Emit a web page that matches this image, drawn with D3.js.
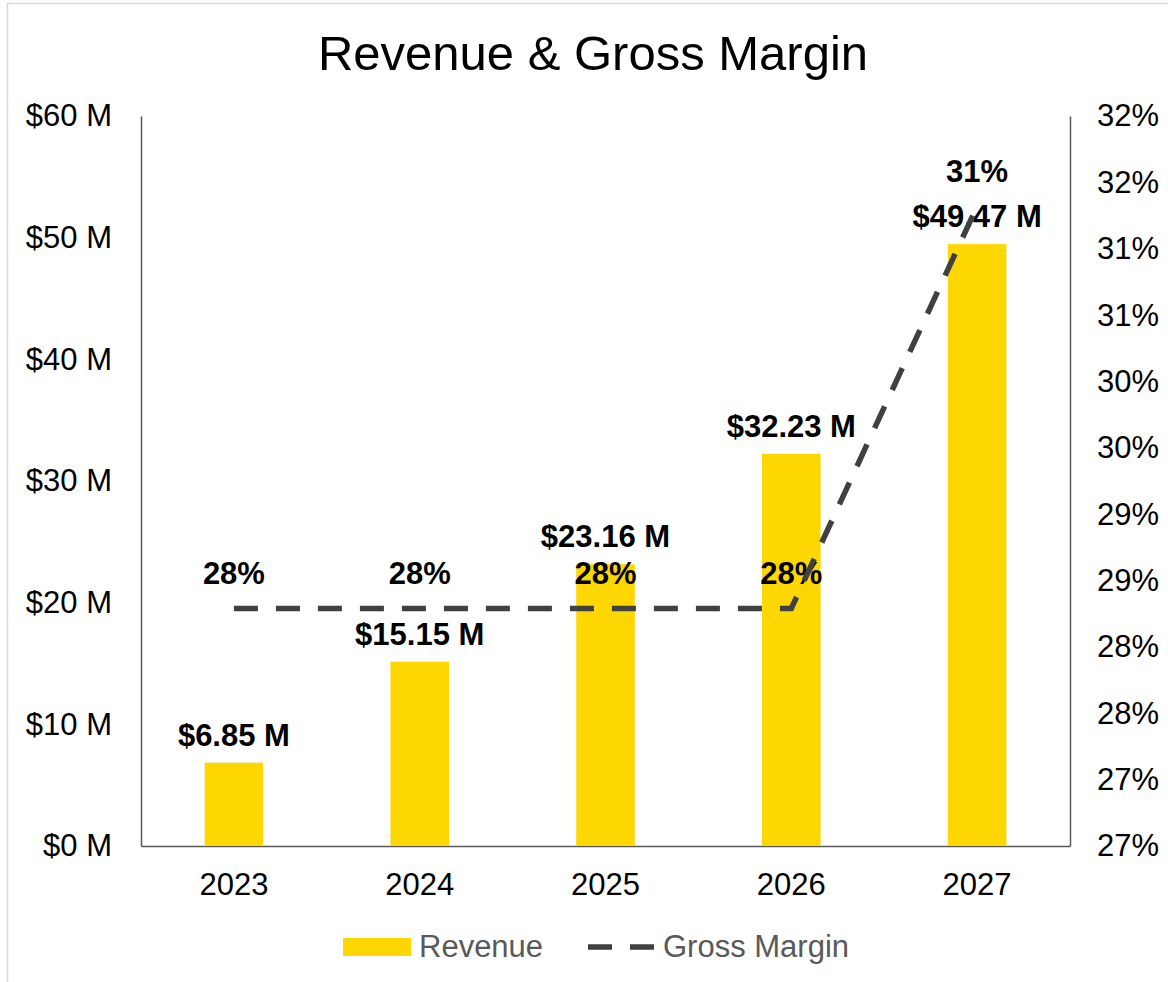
<!DOCTYPE html>
<html>
<head>
<meta charset="utf-8">
<script src="https://cdn.jsdelivr.net/npm/d3@7"></script>
<style>
  html, body { margin: 0; padding: 0; background: #fff; }
  svg { display: block; font-family: "Liberation Sans", Arial, sans-serif; }
</style>
</head>
<body>
<svg id="chart" width="1168" height="982"></svg>
<script>
const years = ["2023", "2024", "2025", "2026", "2027"];
const revenue = [6.85, 15.15, 23.16, 32.23, 49.47];          // $ M
const grossMargin = [28.39, 28.39, 28.39, 28.39, 31.42];      // %
const leftTicks = [0, 10, 20, 30, 40, 50, 60];
const rightTicks = [26.6, 27.1, 27.6, 28.1, 28.6, 29.1, 29.6, 30.1, 30.6, 31.1, 31.6, 32.1];
const seriesNames = ["Revenue", "Gross Margin"];

const svg = d3.select("#chart");
const W = 1168, H = 982;
const m = { left: 141, right: 1070, top: 116, bottom: 846 };

// chart border
svg.append("rect")
  .attr("x", 7.5).attr("y", 3.5)
  .attr("width", W + 20).attr("height", H + 20)
  .attr("fill", "#fff").attr("stroke", "#d9d9d9").attr("stroke-width", 1.5);

// title
svg.append("text")
  .attr("x", 593).attr("y", 70)
  .attr("text-anchor", "middle")
  .attr("font-size", 49)
  .attr("fill", "#000")
  .text("Revenue & Gross Margin");

const x = d3.scaleBand().domain(years).range([m.left, m.right]).paddingInner(0.685).paddingOuter(0.3425);
const yL = d3.scaleLinear().domain([0, 60]).range([m.bottom, m.top]);
const yR = d3.scaleLinear().domain([26.6, 32.1]).range([m.bottom, m.top]);

// axes
const axL = svg.append("g").attr("transform", `translate(${m.left},0)`)
  .call(d3.axisLeft(yL).tickValues(leftTicks).tickSize(0).tickPadding(29).tickFormat(d => `$${d} M`));
const axR = svg.append("g").attr("transform", `translate(${m.right},0)`)
  .call(d3.axisRight(yR).tickValues(rightTicks).tickSize(0).tickPadding(27).tickFormat(d => `${Math.round(d)}%`));
const axB = svg.append("g").attr("transform", `translate(0,${m.bottom})`)
  .call(d3.axisBottom(x).tickSize(0).tickPadding(27));

[axL, axR, axB].forEach(a => {
  a.select(".domain").attr("stroke", "#595959").attr("stroke-width", 1.5);
  a.selectAll("text").attr("font-size", 31).attr("fill", "#000")
    .attr("font-family", "'Liberation Sans', Arial, sans-serif");
});
axB.selectAll(".tick text").attr("dy", "0.71em");

// bars
svg.append("g").selectAll("rect")
  .data(years.map((y, i) => ({ y, v: revenue[i] })))
  .join("rect")
  .attr("x", d => x(d.y)).attr("width", x.bandwidth())
  .attr("y", d => yL(d.v)).attr("height", d => yL(0) - yL(d.v))
  .attr("fill", "#FFD700");

// bar labels
svg.append("g").selectAll("text")
  .data(years.map((y, i) => ({ y, v: revenue[i] })))
  .join("text")
  .attr("x", d => x(d.y) + x.bandwidth() / 2)
  .attr("y", d => yL(d.v) - 17)
  .attr("text-anchor", "middle")
  .attr("font-size", 31).attr("font-weight", "bold").attr("fill", "#000")
  .text(d => `$${d3.format(".2f")(d.v)} M`);

// margin labels
svg.append("g").selectAll("text")
  .data(years.map((y, i) => ({ y, v: grossMargin[i] })))
  .join("text")
  .attr("x", d => x(d.y) + x.bandwidth() / 2)
  .attr("y", d => yR(d.v) - 24)
  .attr("text-anchor", "middle")
  .attr("font-size", 31).attr("font-weight", "bold").attr("fill", "#000")
  .text(d => `${Math.round(d.v)}%`);

// margin line
const line = d3.line()
  .x((d, i) => x(years[i]) + x.bandwidth() / 2)
  .y(d => yR(d));
svg.append("path")
  .datum(grossMargin)
  .attr("d", line)
  .attr("fill", "none")
  .attr("stroke", "#404040")
  .attr("stroke-width", 5.5)
  .attr("stroke-dasharray", "24 18")
  .attr("stroke-linejoin", "miter");

// legend
const lg = svg.append("g");
lg.append("rect").attr("x", 343).attr("y", 938).attr("width", 68).attr("height", 18).attr("fill", "#FFD700");
lg.append("text").attr("x", 419).attr("y", 957).attr("font-size", 31).attr("fill", "#595959").text(seriesNames[0]);
lg.append("line").attr("x1", 588).attr("x2", 654).attr("y1", 947).attr("y2", 947)
  .attr("stroke", "#404040").attr("stroke-width", 5.5).attr("stroke-dasharray", "24 18");
lg.append("text").attr("x", 663).attr("y", 957).attr("font-size", 31).attr("fill", "#595959").text(seriesNames[1]);
</script>
</body>
</html>
